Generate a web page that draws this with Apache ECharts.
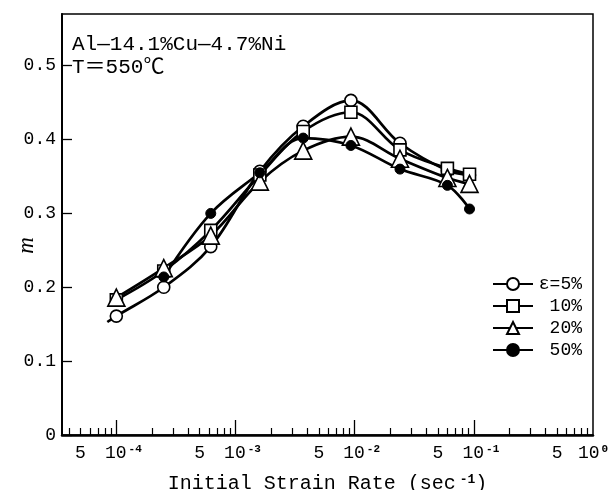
<!DOCTYPE html>
<html>
<head>
<meta charset="utf-8">
<script src="https://cdn.jsdelivr.net/npm/echarts@6/dist/echarts.min.js"></script>
<style>
  html, body { margin: 0; padding: 0; background: #fff; }
  #chart { width: 609px; height: 490px; }
</style>
</head>
<body>
<div id="chart"></div>
<script>
// Strain-rate sensitivity m versus initial strain rate, at four strains
const rates = [1e-4, 2.5e-4, 6.2e-4, 1.6e-3, 3.7e-3, 9.3e-3, 2.4e-2, 6e-2, 9.2e-2];
const m5  = [0.161, 0.200, 0.255, 0.357, 0.418, 0.453, 0.395, 0.358, 0.352];
const m10 = [0.183, 0.222, 0.277, 0.352, 0.411, 0.437, 0.386, 0.361, 0.353];
const m20 = [0.186, 0.226, 0.270, 0.343, 0.385, 0.404, 0.374, 0.348, 0.340];
const m50 = [null, 0.214, 0.300, 0.355, 0.402, 0.392, 0.360, 0.338, 0.306];
// the 5% fitted curve starts a little left of its first measured point
const m5CurveStart = [8.4e-5, 0.153];

const legendNames = ['ε=5%', '10%', '20%', '50%'];
const majorTicks = [1e-4, 1e-3, 1e-2, 1e-1];
const xLabelValues = [5e-5, 1e-4, 5e-4, 1e-3, 5e-3, 1e-2, 5e-2, 1e-1, 5e-1, 1];
const yTickValues = [0, 0.1, 0.2, 0.3, 0.4, 0.5];

const minorTicks = [];
[-5, -4, -3, -2, -1].forEach(function (p) {
  for (let k = 2; k <= 9; k++) {
    const v = k * Math.pow(10, p);
    if (v > 3.6e-5 && v < 1) minorTicks.push(v);
  }
});

const FONT = '"Liberation Mono", "DejaVu Sans Mono", "Noto Sans CJK JP", monospace';

function pairs(values) {
  const out = [];
  values.forEach(function (v, i) { if (v !== null) out.push([rates[i], v]); });
  return out;
}

function xLabel(v) {
  const e = Math.round(Math.log10(v));
  if (Math.abs(v - Math.pow(10, e)) < 1e-12) {
    // the last label sits at the frame's corner, so it is kept centred
    return (e === 0 ? '{c|10}' : '{b|10}') + '{sup|' + e + '}';
  }
  return '5';
}

const lineStyle = { color: '#000', width: 2.7 };
const markStyle = { color: '#fff', borderColor: '#000', borderWidth: 1.6 };

const circleData = [{ value: m5CurveStart, symbol: 'none' }].concat(pairs(m5));

const option = {
  animation: false,
  backgroundColor: '#fff',
  textStyle: { fontFamily: FONT },
  grid: {
    left: 62, right: 16, top: 14, bottom: 55,
    outerBoundsMode: 'none', containLabel: false,
    show: true, borderColor: '#000', borderWidth: 1.5, backgroundColor: 'transparent'
  },
  xAxis: [
    {
      type: 'log', logBase: 10, min: 3.5e-5, max: 1, position: 'bottom',
      axisLine: { show: true, lineStyle: { color: '#000', width: 2.5 } },
      axisTick: { show: true, inside: true, length: 15, customValues: majorTicks,
                  lineStyle: { color: '#000', width: 1.3 } },
      axisLabel: {
        customValues: xLabelValues, formatter: xLabel, margin: 9,
        color: '#000', fontFamily: FONT, fontSize: 18,
        rich: {
          b: { fontSize: 18, fontFamily: FONT, color: '#000', padding: [0, 0, 0, 14] },
          c: { fontSize: 18, fontFamily: FONT, color: '#000' },
          sup: { fontSize: 11, fontFamily: FONT, color: '#000', fontWeight: 'bold',
                 verticalAlign: 'top', padding: [0, 0, 8, 2] }
        }
      },
      splitLine: { show: false },
      name: 'Initial Strain Rate (sec{sup|-1})', nameLocation: 'middle', nameGap: 38,
      nameMoveOverlap: false,
      nameTextStyle: {
        color: '#000', fontFamily: FONT, fontSize: 20,
        rich: { sup: { fontSize: 13, fontWeight: 'bold', fontFamily: FONT, color: '#000',
                       verticalAlign: 'top', padding: [0, 0, 9, 4] } }
      }
    },
    {
      type: 'log', logBase: 10, min: 3.5e-5, max: 1, position: 'bottom',
      axisLine: { show: false },
      axisTick: { show: true, inside: true, length: 7, customValues: minorTicks,
                  lineStyle: { color: '#000', width: 1.2 } },
      axisLabel: { show: false },
      splitLine: { show: false }
    }
  ],
  yAxis: {
    type: 'value', min: 0, max: 0.57,
    axisLine: { show: true, lineStyle: { color: '#000', width: 2 } },
    axisTick: { show: true, inside: true, length: 10, customValues: yTickValues,
                lineStyle: { color: '#000', width: 1.3 } },
    axisLabel: {
      customValues: yTickValues, margin: 6, color: '#000', fontFamily: FONT, fontSize: 18,
      formatter: function (v) { return v === 0 ? '0' : v.toFixed(1); }
    },
    splitLine: { show: false },
    name: 'm', nameLocation: 'middle', nameGap: 24, nameRotate: 90,
    nameMoveOverlap: false,
    nameTextStyle: { color: '#000', fontFamily: '"Liberation Serif", serif', fontSize: 23,
                     fontStyle: 'italic', padding: [0, 42, 0, 0] }
  },
  legend: {
    orient: 'vertical', right: 22, top: 270,
    itemWidth: 40, itemHeight: 15, itemGap: 4,
    data: legendNames,
    formatter: function (n) { return '{t|' + n + '}'; },
    textStyle: {
      color: '#000', fontFamily: FONT, fontSize: 18,
      rich: { t: { width: 44, align: 'right', fontSize: 18, lineHeight: 18,
                   fontFamily: FONT, color: '#000' } }
    }
  },
  graphic: [
    { type: 'text', left: 72, top: 34,
      style: { text: 'Al—14.1%Cu—4.7%Ni', font: '21px ' + FONT, fill: '#000' } },
    { type: 'text', left: 72, top: 57,
      style: { text: 'T＝550℃', font: '21px ' + FONT, fill: '#000' } }
  ],
  series: [
    { name: legendNames[0], type: 'line', smooth: 0.35, data: circleData,
      symbol: 'circle', symbolSize: 12, lineStyle: lineStyle, itemStyle: markStyle, z: 3 },
    { name: legendNames[1], type: 'line', smooth: 0.35, data: pairs(m10),
      symbol: 'rect', symbolSize: 12, lineStyle: lineStyle, itemStyle: markStyle, z: 3 },
    { name: legendNames[2], type: 'line', smooth: 0.35, data: pairs(m20),
      symbol: 'triangle', symbolSize: 17, lineStyle: lineStyle, itemStyle: markStyle, z: 3 },
    { name: legendNames[3], type: 'line', smooth: 0.35, data: pairs(m50),
      symbol: 'circle', symbolSize: 10, lineStyle: lineStyle,
      itemStyle: { color: '#000', borderColor: '#000', borderWidth: 1 }, z: 3 }
  ]
};

echarts.init(document.getElementById('chart'), null, { renderer: 'canvas' }).setOption(option);
</script>
</body>
</html>
